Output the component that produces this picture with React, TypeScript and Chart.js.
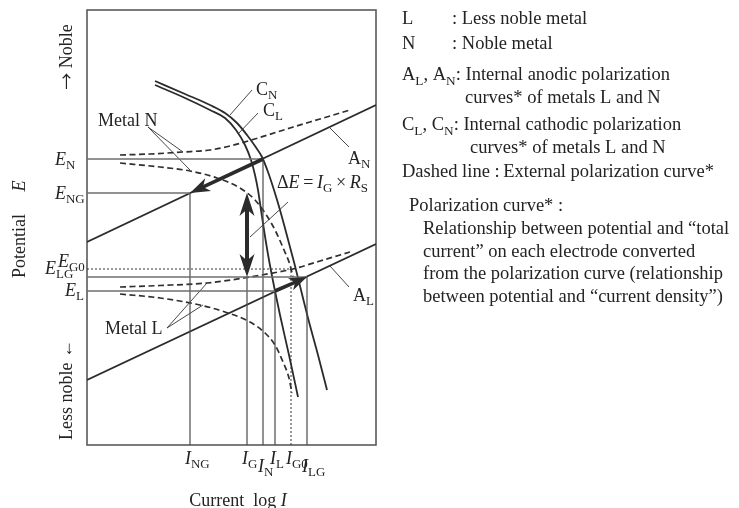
import React, { useEffect, useRef } from "react";
import { Chart, registerables } from "chart.js";

Chart.register(...registerables);

type P = [number, number];

// Potential (upwards = noble) against log current, both in arbitrary units.
const potentialNames = ["N", "NG", "G0", "LG", "L"];
const potentialLevels = [286, 252, 176, 168, 154];
const currentNames = ["NG", "G", "N", "L", "G0", "LG"];
const currentLevels = [103, 160, 176, 188, 204, 220];

// Internal anodic polarization curves (straight Tafel lines)
const anodicN: P[] = [[0, 203], [289, 340]];
const anodicL: P[] = [[0, 65], [289, 201]];

// Internal cathodic polarization curves
const cathodicN: P[] = [
  [68, 364], [98, 351], [123, 340], [138, 332], [150, 322], [160, 310], [168, 299],
  [175, 288], [181, 273], [187, 255], [193, 235], [199, 213], [207, 183], [214, 155],
  [221, 127], [231, 90], [240, 55],
];
const cathodicL: P[] = [
  [68, 360], [98, 347], [123, 335], [138, 327], [149, 315], [158, 300], [164, 285],
  [168, 270], [171, 255], [174, 235], [177, 215], [182, 185], [188, 154], [193, 130],
  [202, 90], [211, 48],
];

// External polarization curves (dashed)
const externalAnodicN: P[] = [
  [33, 290], [63, 291], [96, 293], [123, 295], [143, 299], [171, 307], [203, 317], [233, 326], [263, 335],
];
const externalCathodicN: P[] = [
  [33, 282], [73, 278], [103, 274], [130, 267], [153, 257], [168, 245], [180, 229],
  [189, 213], [197, 195], [203, 180], [206, 168],
];
const externalAnodicL: P[] = [
  [33, 158], [73, 159.5], [120, 162], [160, 167.5], [183, 171.5], [206, 176], [233, 184], [263, 193],
];
const externalCathodicL: P[] = [
  [33, 151], [73, 147], [113, 140], [138, 133], [163, 123], [178, 112], [188, 100],
  [196, 83], [202, 67], [205, 52],
];

// Leader lines from labels to curves
const leaderCN: P[] = [[143, 330], [165, 355]];
const leaderCL: P[] = [[151, 311], [171, 332]];
const leaderAN: P[] = [[243, 317], [262, 298]];
const leaderAL: P[] = [[243, 179], [262, 158]];
const leaderMetalN1: P[] = [[61, 318], [96, 293]];
const leaderMetalN2: P[] = [[61, 318], [103, 275]];
const leaderMetalL1: P[] = [[80, 117], [120, 162]];
const leaderMetalL2: P[] = [[80, 117], [116, 140]];
const leaderDeltaE: P[] = [[163, 208], [201, 243]];

const [E_N, E_NG, E_G0, E_LG, E_L] = potentialLevels;
const [I_NG, I_G, I_N, I_L, I_G0, I_LG] = currentLevels;

// Each potential's horizontal guide ends at its paired current
const potentialPair = [I_N, I_NG, I_G0, I_LG, I_L];
// Each current's vertical guide rises up to this potential
const currentTop = [E_NG, E_LG, E_N, E_L, E_G0, E_LG];

// Thick arrows: galvanic shift of each metal and the IR drop between them
const arrowNoble: P[] = [[I_N, E_N], [I_NG, E_NG]];
const arrowLess: P[] = [[I_L, E_L], [I_LG, E_LG]];
const arrowDrop: P[] = [[I_G, E_NG], [I_G, E_LG]];

const FONT = '"Liberation Serif", "Times New Roman", Times, serif';
const WIDE = '"Noto Sans CJK JP", "DejaVu Sans", sans-serif';
const INK = "#232323";

type Seg = { t: string; sub?: boolean; it?: boolean; wide?: boolean };

// _{..} subscript, %{..} italic, #{..} full-width glyph
function parse(s: string): Seg[] {
  const out: Seg[] = [];
  const re = /_\{([^}]*)\}|%\{([^}]*)\}|#\{([^}]*)\}/g;
  let last = 0;
  let m: RegExpExecArray | null;
  while ((m = re.exec(s))) {
    if (m.index > last) out.push({ t: s.slice(last, m.index) });
    if (m[1] !== undefined) out.push({ t: m[1], sub: true });
    else if (m[2] !== undefined) out.push({ t: m[2], it: true });
    else out.push({ t: m[3], wide: true });
    last = re.lastIndex;
  }
  if (last < s.length) out.push({ t: s.slice(last) });
  return out;
}

function rich(
  ctx: CanvasRenderingContext2D,
  x: number,
  y: number,
  text: string,
  size: number,
  align: "left" | "center" | "right" = "left",
  rotate = false
) {
  const segs = parse(text);
  const fontOf = (sg: Seg) =>
    sg.wide
      ? `${size * 0.95}px ${WIDE}`
      : `${sg.it ? "italic " : ""}${sg.sub ? size * 0.72 : size}px ${FONT}`;
  ctx.save();
  ctx.translate(x, y);
  if (rotate) ctx.rotate(-Math.PI / 2);
  ctx.fillStyle = INK;
  ctx.textBaseline = "alphabetic";
  ctx.textAlign = "left";
  let total = 0;
  const widths = segs.map((sg) => {
    ctx.font = fontOf(sg);
    const w = ctx.measureText(sg.t).width;
    total += w;
    return w;
  });
  let cx = align === "left" ? 0 : align === "center" ? -total / 2 : -total;
  const base = size * 0.33;
  segs.forEach((sg, i) => {
    ctx.font = fontOf(sg);
    ctx.fillText(sg.t, cx, base + (sg.sub ? size * 0.25 : sg.wide ? size * 0.05 : 0));
    cx += widths[i];
  });
  ctx.restore();
}

function head(
  ctx: CanvasRenderingContext2D,
  tx: number,
  ty: number,
  fx: number,
  fy: number,
  len: number,
  half: number
) {
  const d = Math.hypot(tx - fx, ty - fy);
  const ux = (tx - fx) / d;
  const uy = (ty - fy) / d;
  const nx = -uy;
  const ny = ux;
  const bx = tx - ux * len;
  const by = ty - uy * len;
  ctx.beginPath();
  ctx.moveTo(tx, ty);
  ctx.lineTo(bx + nx * half, by + ny * half);
  ctx.lineTo(tx - ux * len * 0.72, ty - uy * len * 0.72);
  ctx.lineTo(bx - nx * half, by - ny * half);
  ctx.closePath();
  ctx.fill();
}

const line = (pts: P[], o: { color?: string; width?: number; dash?: number[]; smooth?: boolean } = {}) => ({
  data: pts.map(([x, y]) => ({ x, y })),
  showLine: true,
  pointRadius: 0,
  pointHoverRadius: 0,
  borderColor: o.color ?? "#2b2b2b",
  borderWidth: o.width ?? 1.8,
  borderDash: o.dash ?? [],
  cubicInterpolationMode: o.smooth ? "monotone" : "default",
  tension: 0,
  fill: false,
});

const diagramPlugin = {
  id: "diagram",
  beforeDatasetsDraw(chart: any) {
    const { ctx, chartArea: a } = chart;
    ctx.save();
    ctx.strokeStyle = "#5a5a5a";
    ctx.lineWidth = 1.6;
    ctx.strokeRect(a.left, a.top, a.right - a.left, a.bottom - a.top);
    ctx.restore();
  },
  afterDatasetsDraw(chart: any) {
    const { ctx } = chart;
    const xs = chart.scales.x;
    const ys = chart.scales.y;
    const px = (p: P): P => [xs.getPixelForValue(p[0]), ys.getPixelForValue(p[1])];
    ctx.save();
    ctx.fillStyle = "#2b2b2b";
    ctx.strokeStyle = "#2b2b2b";
    ctx.lineCap = "butt";
    const single = (arr: P[], w: number, len: number, half: number) => {
      const [a, b] = arr.map(px);
      const d = Math.hypot(b[0] - a[0], b[1] - a[1]);
      const ux = (b[0] - a[0]) / d;
      const uy = (b[1] - a[1]) / d;
      ctx.lineWidth = w;
      ctx.beginPath();
      ctx.moveTo(a[0], a[1]);
      ctx.lineTo(b[0] - ux * len * 0.7, b[1] - uy * len * 0.7);
      ctx.stroke();
      head(ctx, b[0], b[1], a[0], a[1], len, half);
    };
    single(arrowNoble, 3.6, 20, 7);
    single(arrowLess, 3.6, 18, 6.5);
    {
      const [a, b] = arrowDrop.map(px);
      ctx.lineWidth = 4;
      ctx.beginPath();
      ctx.moveTo(a[0], a[1] + 14);
      ctx.lineTo(b[0], b[1] - 14);
      ctx.stroke();
      head(ctx, a[0], a[1], b[0], b[1], 23, 7.5);
      head(ctx, b[0], b[1], a[0], a[1], 23, 7.5);
    }
    ctx.restore();
  },
  afterDraw(chart: any) {
    const { ctx } = chart;
    const xs = chart.scales.x;
    const ys = chart.scales.y;
    const X = (v: number) => xs.getPixelForValue(v);
    const Y = (v: number) => ys.getPixelForValue(v);
    const S = 18;

    // potential tick labels
    const eX = [55, 55, 58, 45, 65];
    const eDy = [0, 0, -8, -9, -1];
    potentialNames.forEach((n, i) => rich(ctx, eX[i], Y(potentialLevels[i]) + eDy[i], `%{E}_{${n}}`, S));

    // current tick labels
    const iDy = [0, 0, 8, 0, 0, 8];
    currentNames.forEach((n, i) => rich(ctx, X(currentLevels[i]) - 5, 458 + iDy[i], `%{I}_{${n}}`, S));

    // curve labels
    rich(ctx, X(169), Y(356), "C_{N}", S);
    rich(ctx, X(176), Y(335), "C_{L}", S);
    rich(ctx, X(261), Y(287), "A_{N}", S);
    rich(ctx, X(266), Y(150), "A_{L}", S);
    rich(ctx, X(11), Y(325), "Metal N", S);
    rich(ctx, X(18), Y(117), "Metal L", S);
    rich(ctx, X(190), Y(263), "Δ%{E}\u2009=\u2009%{I}_{G}\u2009×\u2009%{R}_{S}", S);

    // axis titles
    rich(ctx, 238, 500, "Current  log %{I}", S, "center");
    rich(ctx, 66, 57, "#{→} Noble", S, "center", true);
    rich(ctx, 19, 278, "Potential", S, "left", true);
    rich(ctx, 19, 186, "%{E}", S, "center", true);
    rich(ctx, 66, 390, "Less noble ←", S, "center", true);

    // explanatory notes
    const L = 18.5;
    rich(ctx, 402, 18, "L", L);
    rich(ctx, 452, 18, ": Less noble metal", L);
    rich(ctx, 402, 43, "N", L);
    rich(ctx, 452, 43, ": Noble metal", L);
    rich(ctx, 402, 74, "A_{L}, A_{N}: Internal anodic polarization", L);
    rich(ctx, 465, 97, "curves* of metals L and N", L);
    rich(ctx, 402, 124, "C_{L}, C_{N}: Internal cathodic polarization", L);
    rich(ctx, 470, 147, "curves* of metals L and N", L);
    rich(ctx, 402, 171, "Dashed line :\u2009External polarization curve*", L);
    rich(ctx, 409, 205, "Polarization curve* :", L);
    rich(ctx, 423, 228, "Relationship between potential and “total", L);
    rich(ctx, 423, 251, "current” on each electrode converted", L);
    rich(ctx, 423, 273, "from the polarization curve (relationship", L);
    rich(ctx, 423, 296, "between potential and “current density”)", L);
  },
};

function buildDatasets() {
  const sets: any[] = [];
  // guide lines from each potential level and current level
  potentialLevels.forEach((e, i) => {
    const dotted = potentialNames[i] === "G0";
    sets.push(line([[0, e], [potentialPair[i], e]], {
      color: dotted ? "#333" : "#6e6e6e",
      width: dotted ? 1 : 1.3,
      dash: dotted ? [2, 2] : [],
    }));
  });
  currentLevels.forEach((c, i) => {
    const dotted = currentNames[i] === "G0";
    sets.push(line([[c, 0], [c, currentTop[i]]], {
      color: dotted ? "#333" : "#4a4a4a",
      width: dotted ? 1 : 1.2,
      dash: dotted ? [2, 2] : [],
    }));
  });
  // leaders
  [leaderCN, leaderCL, leaderAN, leaderAL, leaderMetalN1, leaderMetalN2, leaderMetalL1, leaderMetalL2, leaderDeltaE]
    .forEach((l) => sets.push(line(l, { width: 0.9, color: "#333" })));
  // external (dashed) curves
  [externalAnodicN, externalCathodicN, externalAnodicL, externalCathodicL]
    .forEach((c) => sets.push(line(c, { dash: [6, 3.5], smooth: true, width: 1.7, color: "#2f2f2f" })));
  // internal curves
  sets.push(line(anodicN, { width: 1.8 }));
  sets.push(line(anodicL, { width: 1.8 }));
  sets.push(line(cathodicN, { width: 1.8, smooth: true }));
  sets.push(line(cathodicL, { width: 1.8, smooth: true }));
  return sets;
}

export default function App() {
  const ref = useRef<HTMLCanvasElement>(null);
  useEffect(() => {
    document.body.style.margin = "0";
    const chart = new Chart(ref.current as HTMLCanvasElement, {
      type: "scatter",
      data: { datasets: buildDatasets() },
      options: {
        responsive: false,
        animation: false,
        devicePixelRatio: 1,
        events: [],
        layout: { padding: { left: 87, top: 10, right: 363, bottom: 63 } },
        scales: {
          x: { type: "linear", min: 0, max: 289, display: false },
          y: { type: "linear", min: 0, max: 435, display: false },
        },
        plugins: { legend: { display: false }, tooltip: { enabled: false } },
      },
      plugins: [diagramPlugin],
    } as any);
    return () => chart.destroy();
  }, []);
  return (
    <div style={{ width: 739, height: 508, background: "#fff" }}>
      <canvas ref={ref} width={739} height={508} style={{ display: "block" }} />
    </div>
  );
}
